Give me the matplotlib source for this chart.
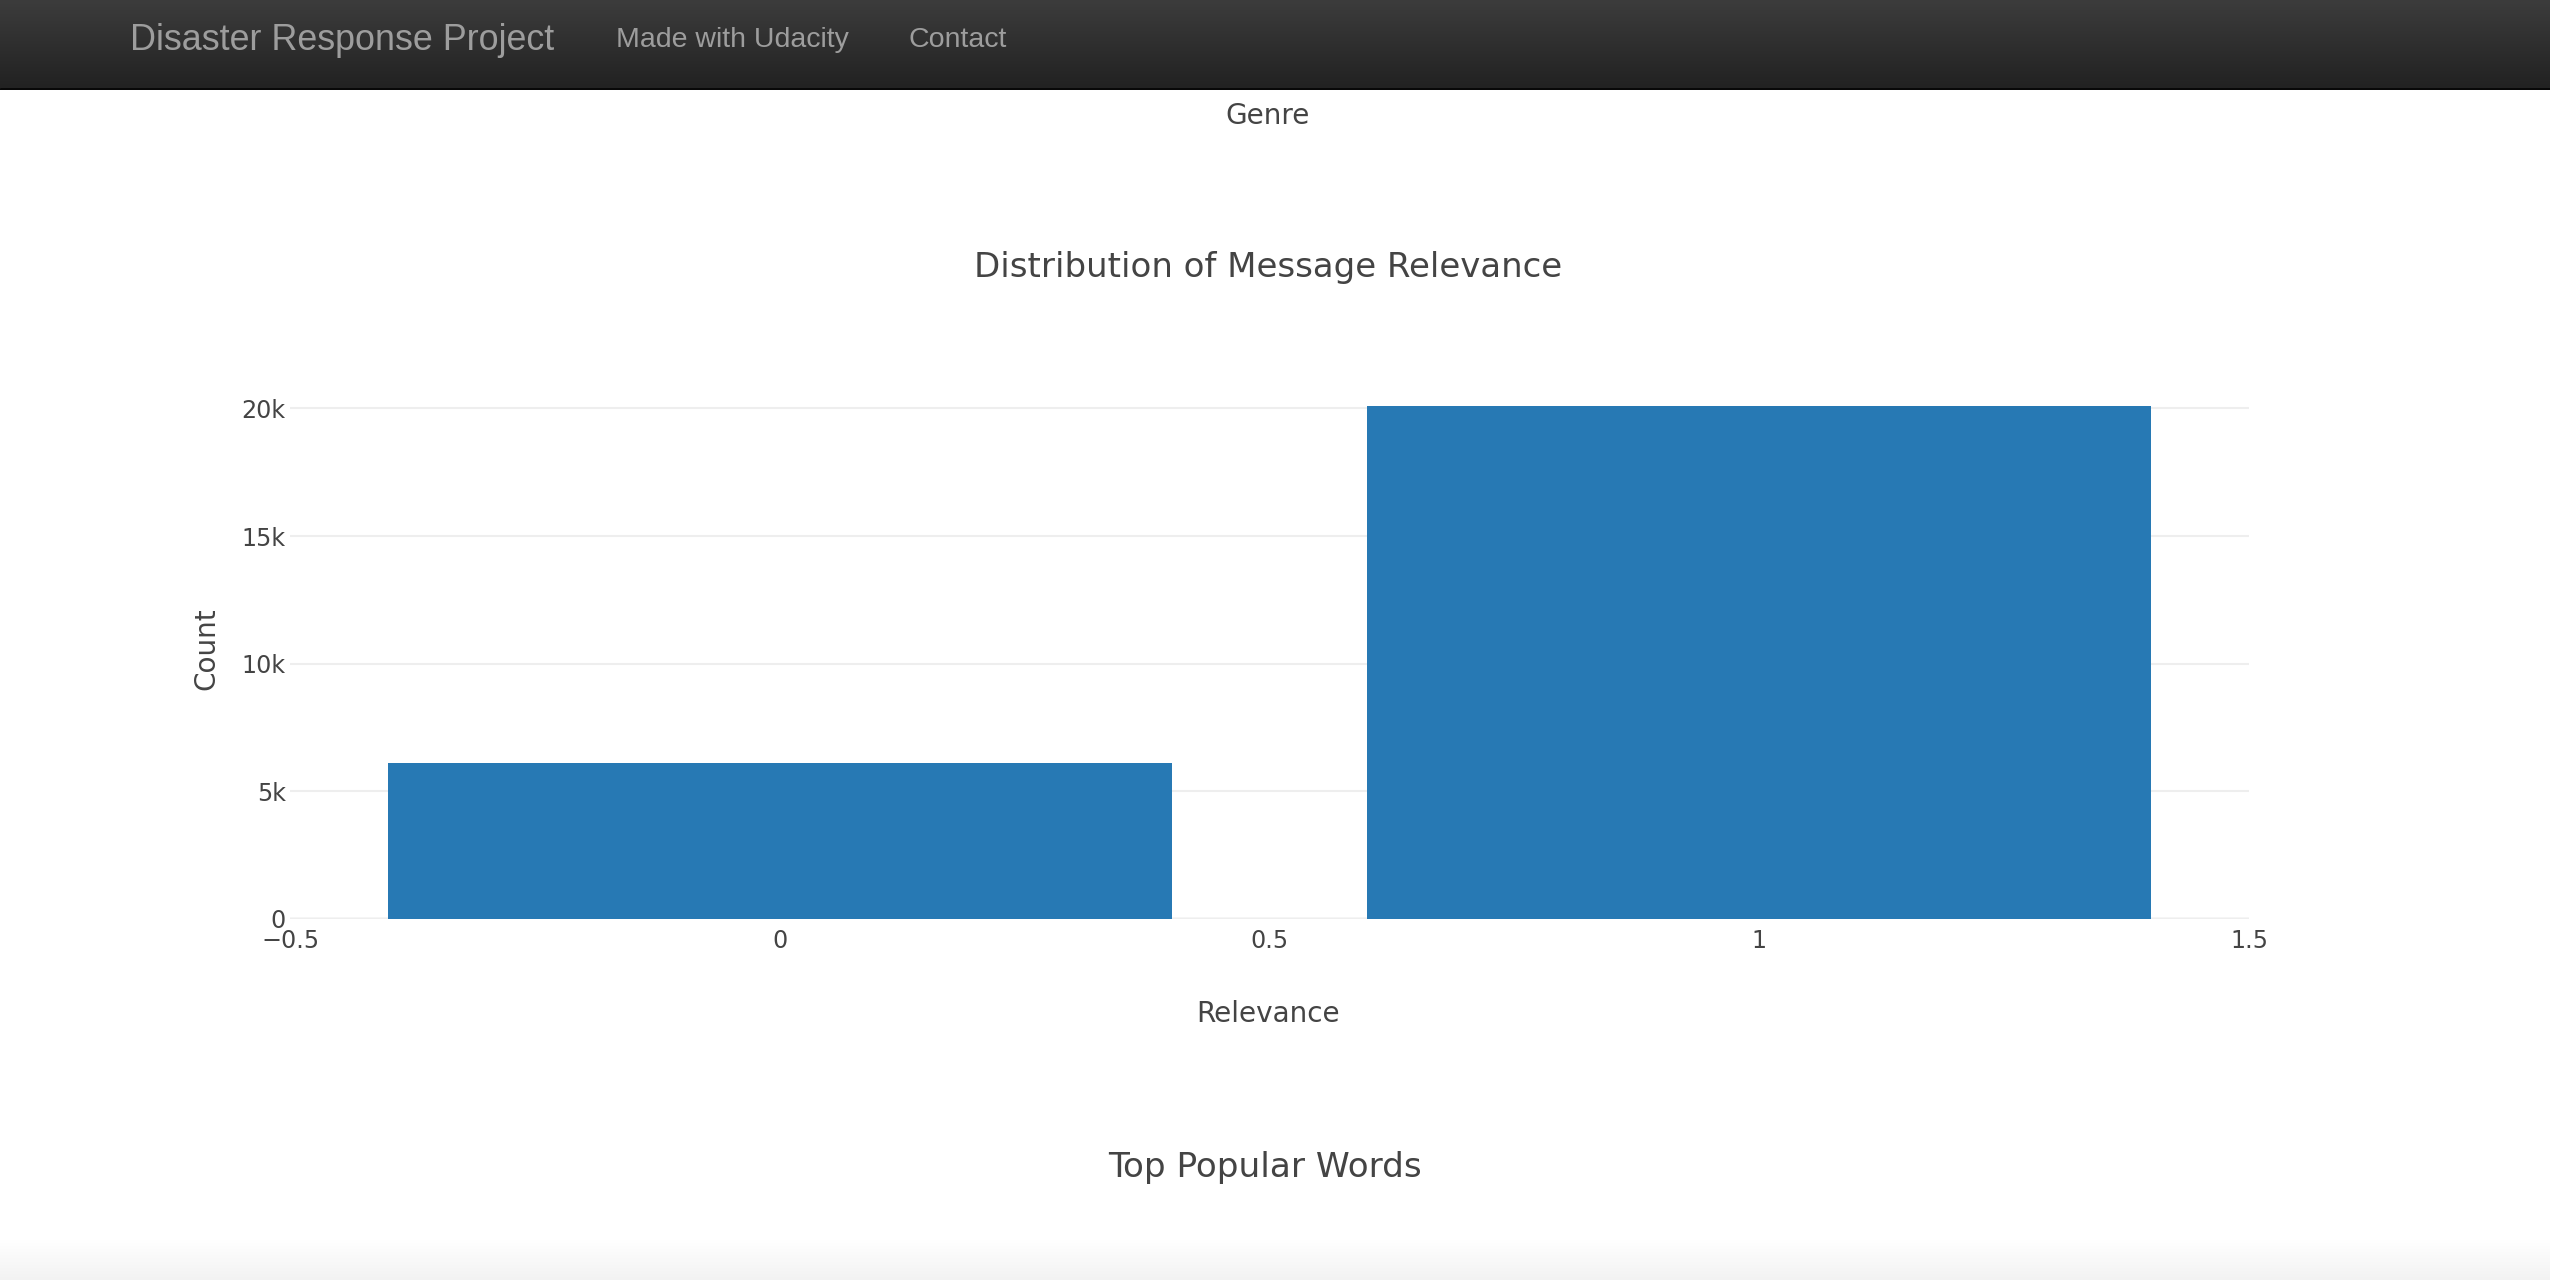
import matplotlib.pyplot as plt
import numpy as np
from matplotlib.ticker import FixedLocator, FixedFormatter

# data
relevance = [0, 1]
counts = [6122, 20094]
yticks = [0, 5000, 10000, 15000, 20000]
ytick_labels = ["0", "5k", "10k", "15k", "20k"]
xticks = [-0.5, 0, 0.5, 1, 1.5]
xtick_labels = ["\u22120.5", "0", "0.5", "1", "1.5"]
nav_items = ["Made with Udacity", "Contact"]

W, H = 2550, 1280
fig = plt.figure(figsize=(W / 100, H / 100), dpi=100)
fig.patch.set_facecolor("white")

def fx(x):
    return x / W

def fy(y):
    return 1 - y / H

# navbar with gradient
nav = fig.add_axes([0, fy(88), 1, 88 / H])
grad = np.linspace(0, 1, 100).reshape(-1, 1)
top = np.array([0x3c, 0x3c, 0x3c]) / 255
bot = np.array([0x22, 0x22, 0x22]) / 255
img = top + (bot - top) * grad[:, :, None]
nav.imshow(img, aspect="auto", extent=[0, 1, 0, 1])
nav.axis("off")
line = fig.add_axes([0, fy(90), 1, 2 / H])
line.axis("off")
line.add_patch(plt.Rectangle((0, 0), 1, 1, color="#080808"))

# bottom shadow
sh = fig.add_axes([0, 0, 1, 40 / H])
g2 = np.linspace(1, 0, 100).reshape(-1, 1)
c1 = np.array([1.0, 1.0, 1.0])
c2 = np.array([0xf2, 0xf2, 0xf2]) / 255
sh.imshow(c1 + (c2 - c1) * (1 - g2)[:, :, None], aspect="auto", extent=[0, 1, 0, 1])
sh.axis("off")

navfont = "Liberation Sans"
fig.text(fx(130), fy(40), "Disaster Response Project", color="#9d9d9d",
         fontsize=25.8, family=navfont, ha="left", va="center")
fig.text(fx(616), fy(40), nav_items[0], color="#9d9d9d",
         fontsize=20.5, family=navfont, ha="left", va="center")
fig.text(fx(909), fy(40), nav_items[1], color="#9d9d9d",
         fontsize=20.5, family=navfont, ha="left", va="center")

pfont = "DejaVu Sans"
fc = "#444444"
fig.text(fx(1268), fy(116), "Genre", color=fc, fontsize=20.1, family=pfont,
         ha="center", va="center")
fig.text(fx(1268), fy(268), "Distribution of Message Relevance", color=fc,
         fontsize=24.5, family=pfont, ha="center", va="center")
fig.text(fx(206), fy(649), "Count", color=fc, fontsize=20.1, family=pfont,
         ha="center", va="center", rotation=90)
fig.text(fx(1268), fy(1014), "Relevance", color=fc, fontsize=20.1, family=pfont,
         ha="center", va="center")
fig.text(fx(1265), fy(1168), "Top Popular Words", color=fc, fontsize=24.7,
         family=pfont, ha="center", va="center")

# main chart
ax = fig.add_axes([fx(290), fy(919), (2249 - 290) / W, 540 / H])
ax.bar(relevance, counts, width=0.8, color="#2779b4", zorder=2)
ax.set_xlim(-0.5, 1.5)
ax.set_ylim(0, max(counts) * 1.0526)
ax.yaxis.set_major_locator(FixedLocator(yticks))
ax.yaxis.set_major_formatter(FixedFormatter(ytick_labels))
ax.xaxis.set_major_locator(FixedLocator(xticks))
ax.xaxis.set_major_formatter(FixedFormatter(xtick_labels))
ax.grid(axis="y", color="#eeeeee", linewidth=1.5, zorder=0)
ax.axhline(0, color="#444444", linewidth=1.5, zorder=1)
for s in ax.spines.values():
    s.set_visible(False)
ax.tick_params(length=0, labelsize=17.2, labelcolor=fc, pad=7)
for lab in ax.get_xticklabels() + ax.get_yticklabels():
    lab.set_family(pfont)
ax.tick_params(axis="y", pad=3)

fig.savefig("out.png", dpi=100)
